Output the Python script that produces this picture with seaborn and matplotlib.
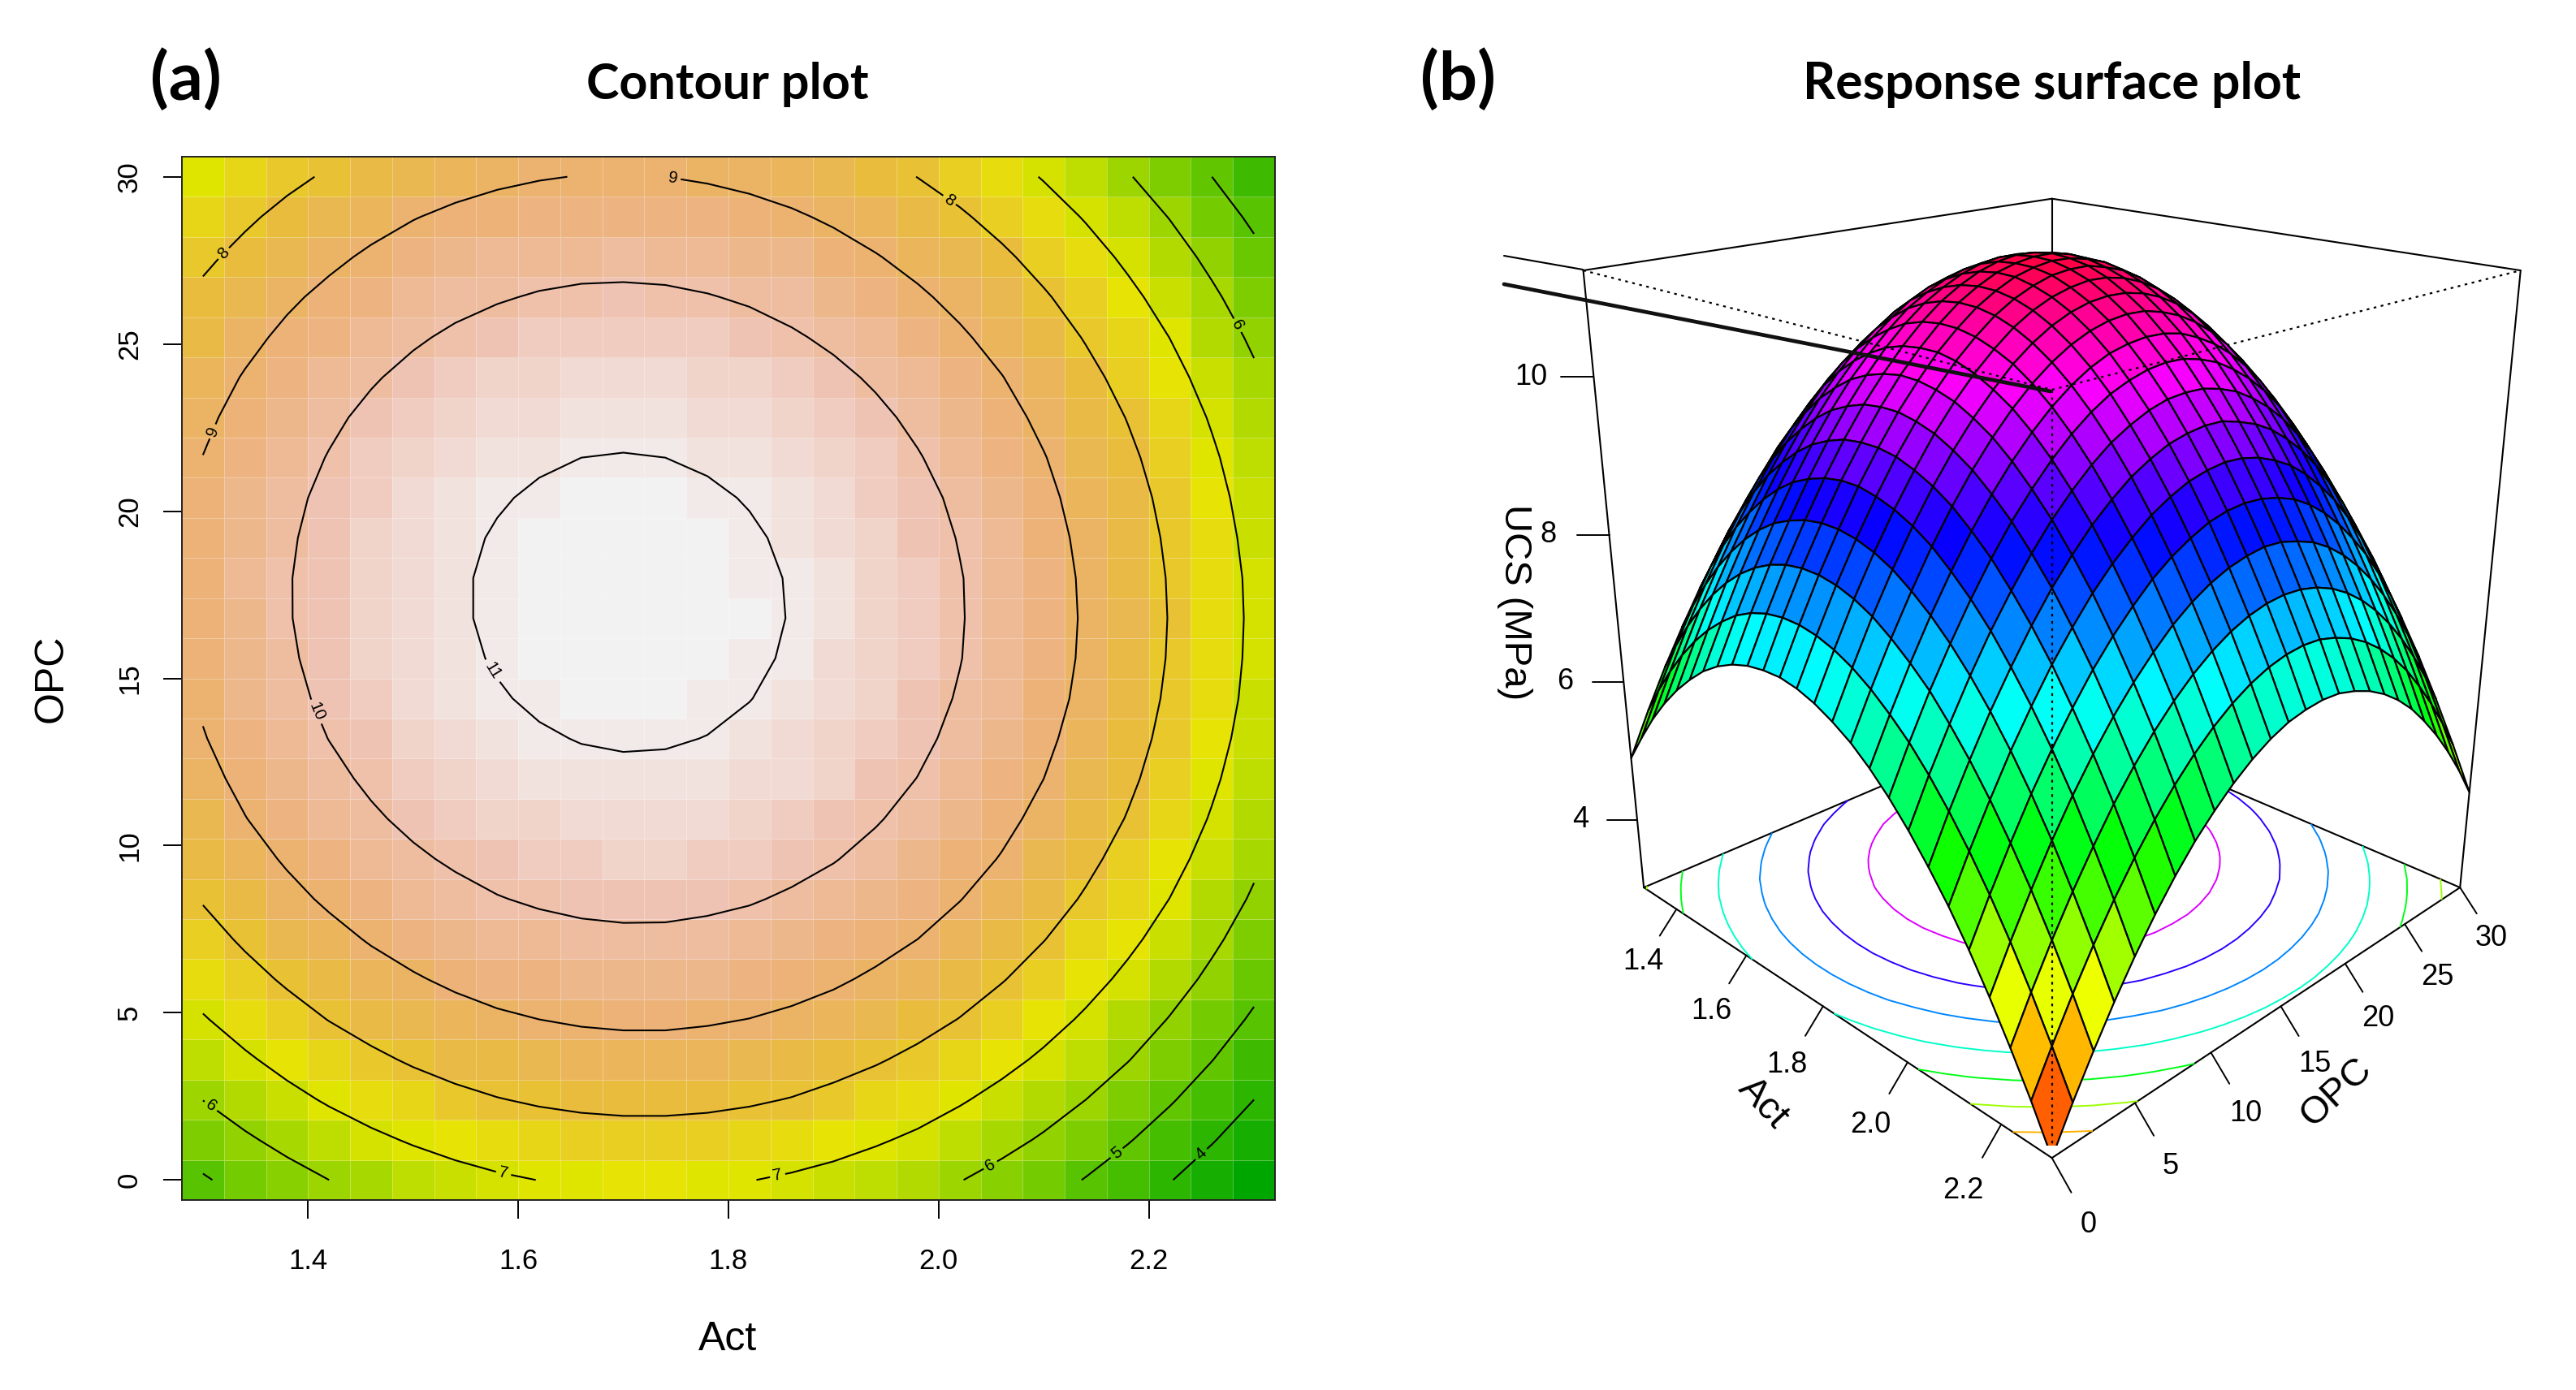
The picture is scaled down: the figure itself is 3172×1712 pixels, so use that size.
#!/usr/bin/env python3
#
# Contour heatmap and response surface of UCS against Act and OPC

import numpy as np
import pandas as pd
import matplotlib
matplotlib.use("Agg")
import matplotlib.pyplot as plt
from matplotlib.colors import LinearSegmentedColormap, Normalize
from matplotlib.lines import Line2D
import seaborn as sns

act = [1.30, 1.34, 1.38, 1.42, 1.46, 1.50, 1.54, 1.58, 1.62, 1.66, 1.70, 1.74, 1.78,
       1.82, 1.86, 1.90, 1.94, 1.98, 2.02, 2.06, 2.10, 2.14, 2.18, 2.22, 2.26, 2.30]
opc = [0.0, 1.2, 2.4, 3.6, 4.8, 6.0, 7.2, 8.4, 9.6, 10.8, 12.0, 13.2, 14.4,
       15.6, 16.8, 18.0, 19.2, 20.4, 21.6, 22.8, 24.0, 25.2, 26.4, 27.6, 28.8, 30.0]

# one row per opc value
ucs = [
    [4.91, 5.31, 5.68, 6.00, 6.28, 6.52, 6.73, 6.89, 7.01, 7.09, 7.13, 7.14, 7.10, 7.02, 6.90, 6.75, 6.55, 6.31, 6.03, 5.71, 5.36, 4.96, 4.52, 4.04, 3.53, 2.97],
    [5.48, 5.88, 6.24, 6.56, 6.84, 7.08, 7.28, 7.45, 7.57, 7.65, 7.69, 7.69, 7.65, 7.57, 7.45, 7.29, 7.09, 6.86, 6.58, 6.26, 5.90, 5.50, 5.06, 4.58, 4.06, 3.51],
    [6.01, 6.41, 6.77, 7.09, 7.37, 7.61, 7.81, 7.97, 8.09, 8.17, 8.21, 8.21, 8.17, 8.09, 7.97, 7.80, 7.60, 7.37, 7.08, 6.76, 6.40, 6.00, 5.56, 5.08, 4.56, 4.00],
    [6.49, 6.89, 7.25, 7.57, 7.85, 8.09, 8.29, 8.45, 8.56, 8.64, 8.68, 8.68, 8.64, 8.56, 8.44, 8.27, 8.07, 7.83, 7.55, 7.23, 6.87, 6.47, 6.03, 5.54, 5.02, 4.46],
    [6.94, 7.34, 7.70, 8.02, 8.29, 8.53, 8.73, 8.89, 9.00, 9.08, 9.12, 9.12, 9.07, 8.99, 8.87, 8.71, 8.50, 8.26, 7.98, 7.65, 7.29, 6.89, 6.45, 5.96, 5.44, 4.88],
    [7.35, 7.75, 8.10, 8.42, 8.70, 8.93, 9.13, 9.29, 9.40, 9.48, 9.51, 9.51, 9.47, 9.38, 9.26, 9.10, 8.89, 8.65, 8.36, 8.04, 7.68, 7.27, 6.83, 6.35, 5.82, 5.26],
    [7.72, 8.11, 8.47, 8.78, 9.06, 9.29, 9.49, 9.65, 9.76, 9.84, 9.87, 9.87, 9.82, 9.74, 9.61, 9.45, 9.24, 9.00, 8.71, 8.39, 8.02, 7.62, 7.17, 6.69, 6.16, 5.60],
    [8.05, 8.44, 8.80, 9.11, 9.38, 9.62, 9.81, 9.97, 10.08, 10.15, 10.19, 10.18, 10.13, 10.05, 9.92, 9.76, 9.55, 9.30, 9.02, 8.69, 8.33, 7.92, 7.47, 6.99, 6.46, 5.90],
    [8.34, 8.73, 9.08, 9.39, 9.67, 9.90, 10.09, 10.24, 10.36, 10.43, 10.46, 10.46, 10.41, 10.32, 10.19, 10.03, 9.82, 9.57, 9.28, 8.96, 8.59, 8.18, 7.73, 7.25, 6.72, 6.15],
    [8.58, 8.98, 9.33, 9.64, 9.91, 10.14, 10.33, 10.48, 10.60, 10.67, 10.70, 10.69, 10.64, 10.55, 10.43, 10.26, 10.05, 9.80, 9.51, 9.18, 8.81, 8.41, 7.96, 7.47, 6.94, 6.37],
    [8.79, 9.18, 9.53, 9.84, 10.11, 10.34, 10.53, 10.69, 10.80, 10.87, 10.90, 10.89, 10.84, 10.75, 10.62, 10.45, 10.24, 9.99, 9.70, 9.37, 9.00, 8.59, 8.14, 7.65, 7.12, 6.55],
    [8.96, 9.35, 9.70, 10.01, 10.28, 10.51, 10.70, 10.84, 10.95, 11.02, 11.05, 11.04, 10.99, 10.90, 10.77, 10.60, 10.39, 10.14, 9.84, 9.51, 9.14, 8.73, 8.28, 7.79, 7.26, 6.69],
    [9.09, 9.48, 9.83, 10.13, 10.40, 10.63, 10.82, 10.96, 11.07, 11.14, 11.17, 11.16, 11.10, 11.01, 10.88, 10.71, 10.50, 10.24, 9.95, 9.62, 9.25, 8.84, 8.38, 7.89, 7.36, 6.79],
    [9.18, 9.56, 9.91, 10.22, 10.48, 10.71, 10.90, 11.04, 11.15, 11.22, 11.24, 11.23, 11.18, 11.08, 10.95, 10.78, 10.56, 10.31, 10.02, 9.68, 9.31, 8.90, 8.44, 7.95, 7.42, 6.84],
    [9.23, 9.61, 9.96, 10.26, 10.53, 10.75, 10.94, 11.08, 11.19, 11.26, 11.28, 11.27, 11.21, 11.12, 10.98, 10.81, 10.59, 10.34, 10.04, 9.71, 9.34, 8.92, 8.47, 7.97, 7.44, 6.86],
    [9.23, 9.62, 9.96, 10.27, 10.53, 10.76, 10.94, 11.08, 11.19, 11.25, 11.28, 11.26, 11.21, 11.11, 10.97, 10.80, 10.58, 10.33, 10.03, 9.70, 9.32, 8.90, 8.45, 7.95, 7.42, 6.84],
    [9.20, 9.58, 9.92, 10.23, 10.49, 10.71, 10.90, 11.04, 11.14, 11.21, 11.23, 11.21, 11.15, 11.06, 10.92, 10.74, 10.53, 10.27, 9.97, 9.63, 9.26, 8.84, 8.38, 7.89, 7.35, 6.77],
    [9.13, 9.51, 9.85, 10.15, 10.41, 10.63, 10.82, 10.96, 11.06, 11.12, 11.14, 11.13, 11.07, 10.97, 10.83, 10.65, 10.43, 10.18, 9.88, 9.54, 9.16, 8.75, 8.29, 7.79, 7.25, 6.67],
    [9.01, 9.39, 9.73, 10.03, 10.30, 10.52, 10.70, 10.84, 10.94, 11.00, 11.02, 11.00, 10.94, 10.84, 10.70, 10.52, 10.30, 10.04, 9.74, 9.41, 9.03, 8.61, 8.15, 7.65, 7.11, 6.53],
    [8.86, 9.24, 9.58, 9.88, 10.14, 10.36, 10.54, 10.68, 10.78, 10.84, 10.86, 10.84, 10.77, 10.67, 10.53, 10.35, 10.13, 9.87, 9.57, 9.23, 8.85, 8.43, 7.97, 7.47, 6.93, 6.35],
    [8.67, 9.05, 9.39, 9.68, 9.94, 10.16, 10.34, 10.48, 10.57, 10.63, 10.65, 10.63, 10.57, 10.47, 10.32, 10.14, 9.92, 9.66, 9.36, 9.02, 8.63, 8.21, 7.75, 7.25, 6.71, 6.13],
    [8.44, 8.81, 9.15, 9.45, 9.70, 9.92, 10.10, 10.24, 10.33, 10.39, 10.41, 10.38, 10.32, 10.22, 10.07, 9.89, 9.67, 9.41, 9.10, 8.76, 8.38, 7.95, 7.49, 6.99, 6.45, 5.86],
    [8.16, 8.54, 8.88, 9.17, 9.43, 9.64, 9.82, 9.95, 10.05, 10.11, 10.12, 10.10, 10.03, 9.93, 9.79, 9.60, 9.38, 9.11, 8.81, 8.46, 8.08, 7.66, 7.19, 6.69, 6.14, 5.56],
    [7.85, 8.22, 8.56, 8.85, 9.11, 9.32, 9.50, 9.63, 9.73, 9.78, 9.80, 9.77, 9.71, 9.60, 9.46, 9.27, 9.04, 8.78, 8.47, 8.13, 7.74, 7.32, 6.85, 6.35, 5.80, 5.22],
    [7.50, 7.87, 8.21, 8.50, 8.75, 8.97, 9.14, 9.27, 9.37, 9.42, 9.43, 9.41, 9.34, 9.23, 9.09, 8.90, 8.67, 8.41, 8.10, 7.75, 7.37, 6.94, 6.47, 5.97, 5.42, 4.84],
    [7.11, 7.48, 7.81, 8.10, 8.36, 8.57, 8.74, 8.87, 8.96, 9.02, 9.03, 9.00, 8.93, 8.83, 8.68, 8.49, 8.26, 7.99, 7.69, 7.34, 6.95, 6.52, 6.06, 5.55, 5.00, 4.41],
]

contour_levels = [4, 5, 6, 7, 8, 9, 10, 11]
act_ticks = [1.4, 1.6, 1.8, 2.0, 2.2]
opc_ticks = [0, 5, 10, 15, 20, 25, 30]
ucs_ticks = [4, 6, 8, 10]
# (Act, OPC) spots where the contour numbers sit
label_spots = [(1.320, 27.7), (1.308, 22.4), (1.747, 29.9), (2.008, 29.2), (2.281, 25.5),
               (1.40, 13.9), (1.569, 15.1), (1.305, 2.1), (1.586, 0.2), (1.847, 0.1),
               (2.05, 0.4), (2.172, 0.7), (2.252, 0.7)]

W, H = 3172, 1712
SANS = ["Liberation Sans", "DejaVu Sans"]
HEAD = ["Lato", "DejaVu Sans"]

# R terrain.colors
terrain = LinearSegmentedColormap.from_list("terrain_r", [
    (0.000, "#00A600"), (0.125, "#2DB600"), (0.250, "#63C600"), (0.375, "#A0D600"),
    (0.500, "#E6E600"), (0.625, "#E9BD3A"), (0.750, "#ECB176"), (0.875, "#EFC2B3"),
    (1.000, "#F2F2F2")], N=50)


def px(x, y):
    return x / W, 1 - y / H


def act_cell(v):
    return (np.asarray(v) - act[0]) / (act[1] - act[0]) + 0.5


def opc_cell(v):
    return (np.asarray(v) - opc[0]) / (opc[1] - opc[0]) + 0.5


def plot_contour(figure, z):
    ax = figure.add_axes([224 / W, 1 - 1478 / H, 1346 / W, 1285 / H])
    frame = pd.DataFrame(z, index=opc, columns=act)
    sns.heatmap(frame, ax=ax, cmap=terrain, vmin=z.min(), vmax=z.max(), cbar=False,
                xticklabels=False, yticklabels=False, linewidths=0.35,
                linecolor=(1, 1, 1, 0.3))
    ax.invert_yaxis()
    for spine in ax.spines.values():
        spine.set_visible(True)
        spine.set_linewidth(0.7)
        spine.set_color("#222222")

    cs = ax.contour(act_cell(act), opc_cell(opc), z, levels=contour_levels,
                    colors="black", linewidths=0.75)
    spots = [(float(act_cell(a)), float(opc_cell(o))) for a, o in label_spots]
    ax.clabel(cs, fmt="%d", fontsize=7.4, manual=spots, inline=True, inline_spacing=3)
    for text in cs.labelTexts:
        text.set_family(SANS)

    ax.set_xticks(act_cell(act_ticks))
    ax.set_xticklabels([f"{t:.1f}" for t in act_ticks], fontsize=12.5, family=SANS, rotation=0)
    ax.set_yticks(opc_cell(opc_ticks))
    ax.set_yticklabels(opc_ticks, fontsize=12.5, family=SANS, rotation=90, va="center")
    ax.tick_params(axis="x", length=8.3, width=0.7, pad=13, bottom=True, color="black")
    ax.tick_params(axis="y", length=8.3, width=0.7, pad=9, left=True, color="black")
    ax.set_xlabel("")
    ax.set_ylabel("")


def plot_surface(figure, z):
    size = 1308
    cx, cy = 2509, 757
    ax = figure.add_axes([(cx - size / 2) / W, 1 - (cy + size / 2) / H, size / W, size / H],
                         projection="3d", computed_zorder=False)
    ax.patch.set_alpha(0)
    ax.set_proj_type("persp", focal_length=0.305)
    ax.view_init(elev=21.5, azim=-45)
    ax.set_box_aspect((1, 1, 1.07))
    ax.set_axis_off()

    lo, hi = z.min(), z.max()
    x0, x1, y0, y1 = act[0], act[-1], opc[0], opc[-1]
    ax.set_xlim(x0, x1)
    ax.set_ylim(y0, y1)
    ax.set_zlim(lo, hi)
    ax.set_xticks([])
    ax.set_yticks([])
    ax.set_zticks([])

    X, Y = np.meshgrid(act, opc)
    means = z.copy()
    means[:-1, :-1] = (z[:-1, :-1] + z[1:, :-1] + z[:-1, 1:] + z[1:, 1:]) / 4
    norm = Normalize(lo, hi)
    colors = plt.cm.hsv(norm(means) * 0.97)

    # floor and back of the box stay behind the surface
    for p, q in [((x0, y0), (x1, y0)), ((x1, y0), (x1, y1)), ((x1, y1), (x0, y1)), ((x0, y1), (x0, y0))]:
        ax.plot([p[0], q[0]], [p[1], q[1]], [lo, lo], color="black", lw=0.75, zorder=1, clip_on=False)
    for p, q in [((x0, y1), (x0, y0)), ((x0, y1), (x1, y1))]:
        ax.plot([p[0], q[0]], [p[1], q[1]], [hi, hi], color="black", lw=0.75, zorder=1, clip_on=False)
    for p in [(x0, y0), (x0, y1), (x1, y1)]:
        ax.plot([p[0], p[0]], [p[1], p[1]], [lo, hi], color="black", lw=0.75, zorder=1, clip_on=False)
    ax.contour(X, Y, z, levels=contour_levels, zdir="z", offset=lo, cmap=plt.cm.hsv,
               norm=Normalize(lo, lo + (hi - lo) / 0.97), linewidths=0.7, zorder=1.5)

    ax.plot_surface(X, Y, z, facecolors=colors, rstride=1, cstride=1, shade=False,
                    edgecolor="black", linewidth=0.8, zorder=2)

    # front edges of the box are dotted and run over the surface
    dotted = dict(color="black", lw=0.8, ls=(0, (1.5, 2.5)), zorder=3)
    ax.plot([x1, x1], [y0, y0], [lo, hi], **dotted)
    ax.plot([x0, x1], [y0, y0], [hi, hi], **dotted)
    ax.plot([x1, x1], [y0, y1], [hi, hi], **dotted)

    # detailed ticks
    tick = dict(color="black", lw=0.7, zorder=3, clip_on=False)
    label = dict(fontsize=13, family=SANS, ha="center", va="center", zorder=4)
    for t in act_ticks:
        ax.plot([t, t], [y0, y0 - 1.1], [lo, lo - 0.28], **tick)
        ax.text(t, y0 - 2.2, lo - 0.55, f"{t:.1f}", **label)
    for t in opc_ticks:
        ax.plot([x1, x1 + 0.037], [t, t], [lo, lo - 0.28], **tick)
        ax.text(x1 + 0.07, t, lo - 0.55, str(t), **label)
    for t in ucs_ticks:
        ax.plot([x0, x0 - 0.036], [y0, y0 - 1.08], [t, t], **tick)
        ax.text(x0 - 0.069, y0 - 2.06, t, str(t), **label)


def main():
    sns.set_theme(style="white", rc={"text.color": "black", "xtick.color": "black", "ytick.color": "black"})
    z = np.array(ucs)
    figure = plt.figure(figsize=(W / 200, H / 200), dpi=200, facecolor="white")

    plot_contour(figure, z)
    plot_surface(figure, z)

    # stray strokes running off the box on the left
    figure.add_artist(Line2D(*zip(px(1852, 315), px(1949, 332)), color="black", lw=0.75, zorder=5))
    figure.add_artist(Line2D(*zip(px(1852, 350), px(2525, 482)), color="#111111", lw=1.7, zorder=5))

    figure.text(*px(896, 1650), "Act", fontsize=18, family=SANS, ha="center", va="center")
    figure.text(*px(64, 836), "OPC", fontsize=18, family=SANS, ha="center", va="center", rotation=90)
    figure.text(*px(2171, 1359), "Act", fontsize=17, family=SANS, ha="center", va="center", rotation=-47)
    figure.text(*px(2877, 1345), "OPC", fontsize=17, family=SANS, ha="center", va="center", rotation=43)
    figure.text(*px(1865, 742), "UCS (MPa)", fontsize=17, family=SANS, ha="center", va="center", rotation=-90)
    figure.text(*px(896, 104), "Contour plot", fontsize=22, family=HEAD, weight="bold", ha="center", va="center")
    figure.text(*px(2527, 104), "Response surface plot", fontsize=22.5, family=HEAD, weight="bold", ha="center", va="center")
    figure.text(*px(229, 98), "(a)", fontsize=30, family=HEAD, weight="bold", ha="center", va="center")
    figure.text(*px(1796, 98), "(b)", fontsize=30, family=HEAD, weight="bold", ha="center", va="center")

    figure.savefig("out.png", dpi=200)
    plt.close(figure)


main()
